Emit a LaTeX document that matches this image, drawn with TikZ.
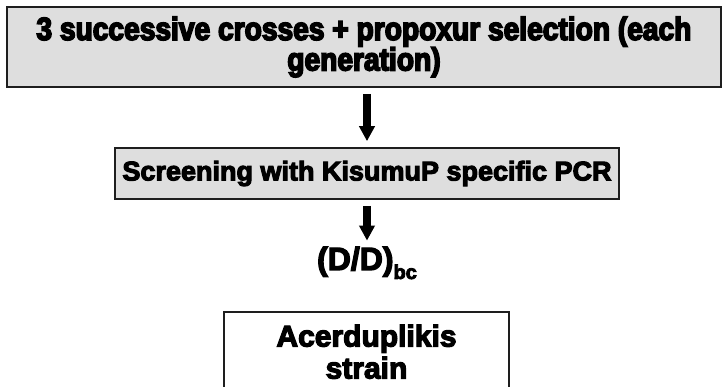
\documentclass[tikz,border=0pt]{standalone}
\usepackage{fontspec}
\setmainfont{Liberation Sans}
\newfontfamily\heavy[RawFeature={embolden=4}]{Liberation Sans Bold}
\newfontfamily\heavyc[RawFeature={embolden=5}, FakeStretch=0.88]{Liberation Sans Bold}
\usetikzlibrary{arrows.meta}
\definecolor{boxgray}{HTML}{DEDEDE}
\definecolor{edge}{HTML}{1E1E1E}
\tikzset{
  graybox/.style={draw=edge, line width=1.6pt, fill=boxgray, inner sep=0pt, align=center},
  whitebox/.style={draw=edge, line width=1.6pt, fill=white, inner sep=0pt, align=center},
  bigarrow/.style={draw=black, line width=7.5pt, -{Triangle[width=15pt,length=15pt]}},
}
\begin{document}
\begin{tikzpicture}[x=1pt,y=-1pt]
\useasboundingbox (0,0) rectangle (723,387);
\node[graybox, minimum width=714pt, minimum height=80pt,
      font=\heavyc\fontsize{32}{30.5}\selectfont] (top) at (364,47)
  {\raisebox{-2pt}{3 successive crosses + propoxur selection (each}\\\raisebox{-2pt}{generation)}};
\node[graybox, minimum width=504pt, minimum height=51pt,
      font=\heavy\fontsize{27}{30}\selectfont] (mid) at (367,173.5)
  {Screening with KisumuP specific PCR};
\node[inner sep=0pt, anchor=base, font=\heavy\fontsize{32}{36}\selectfont] (dd) at (367,270)
  {(D/D)\raisebox{-0.28em}{\fontsize{20}{20}\selectfont bc}};
\node[whitebox, minimum width=285pt, minimum height=80pt, anchor=north,
      font=\heavy\fontsize{30}{32}\selectfont] (bot) at (366.5,311)
  {Acerduplikis\\strain};
\draw[bigarrow, shorten <=6pt, shorten >=6pt] (top.south -| mid.north) -- (mid.north);
\draw[bigarrow, shorten <=6pt, shorten >=6pt] (mid.south) -- (mid.south |- dd.north);
\end{tikzpicture}
\end{document}
